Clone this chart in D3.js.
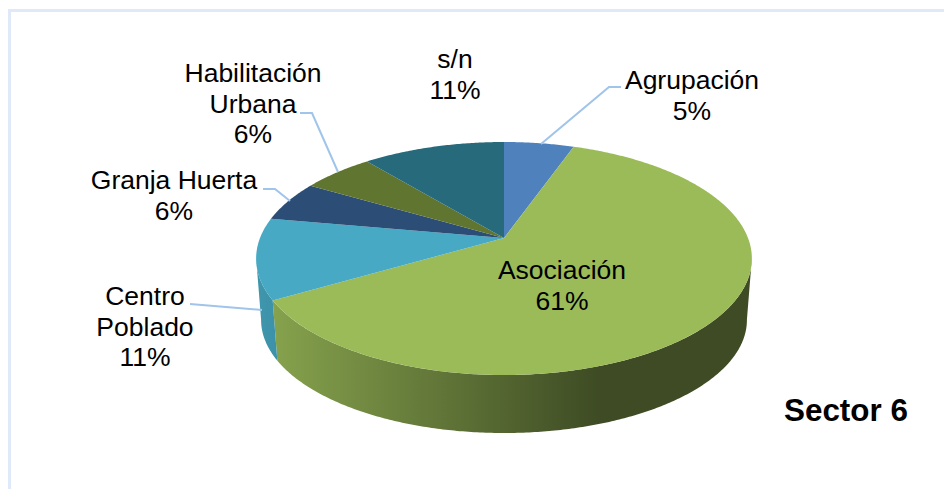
<!DOCTYPE html>
<html>
<head>
<meta charset="utf-8">
<script src="https://cdnjs.cloudflare.com/ajax/libs/d3/7.8.5/d3.min.js"></script>
<style>
  html, body { margin: 0; padding: 0; background: #fff; }
  svg { display: block; }
  text { font-family: "Liberation Sans", Arial, sans-serif; fill: #000; }
</style>
</head>
<body>
<div id="chart"></div>
<script>
const categories = ["Agrupación", "Asociación", "Centro Poblado", "Granja Huerta", "Habilitación Urbana", "s/n"];
const shares = [5.4, 61.2, 11.2, 5.6, 5.6, 11.0];
const chartTitle = "Sector 6";
const sliceColors = ["#4f81bd", "#9bbb59", "#47a9c3", "#2c4d75", "#5f7530", "#276a7c"];

const width = 944, height = 489;

const svg = d3.select("#chart").append("svg")
    .attr("width", width)
    .attr("height", height);

// Frame, open on the right and at the bottom
svg.append("path")
    .attr("d", d3.line()([[9.5, height], [9.5, 10.5], [width, 10.5]]))
    .attr("fill", "none")
    .attr("stroke", "#dfe9f9")
    .attr("stroke-width", 3);

// Tilted pie: the centre of the disc sits above the centre of its outline
const cx = 504, cy = 238;
const radiusX = 244, radiusY = 112.9, tilt = 0.176;
const outlineCy = 258.5, depth = 61.5;

function topPoint(a) {
    const u = Math.sin(a), v = Math.cos(a), w = 1 + tilt * v;
    return [cx + radiusX * u / w, cy - radiusY * v / w];
}

function lowerPoint(a) {
    const p = topPoint(a);
    return [cx + (p[0] - cx) * 0.98, outlineCy + depth + (p[1] - outlineCy) * 0.97];
}

function sampleAngles(a0, a1) {
    const n = Math.max(2, Math.ceil((a1 - a0) / 0.01));
    return d3.range(n + 1).map(i => a0 + (a1 - a0) * i / n);
}

const arcs = d3.pie().sort(null)(shares);
const line = d3.line();

// Side wall shading runs left to right across the whole pie
const defs = svg.append("defs");
sliceColors.forEach((c, i) => {
    const shade = k => {
        const col = d3.rgb(c);
        return d3.rgb(col.r * k, col.g * k, col.b * k).formatHex();
    };
    const grad = defs.append("linearGradient")
        .attr("id", `wall-${i}`)
        .attr("gradientUnits", "userSpaceOnUse")
        .attr("x1", 262).attr("x2", 600)
        .attr("y1", 0).attr("y2", 0);
    grad.append("stop").attr("offset", 0).attr("stop-color", shade(0.88));
    grad.append("stop").attr("offset", 1).attr("stop-color", shade(0.40));
});

// Only the front part of the wall shows
const wallStart = 100 * Math.PI / 180, wallEnd = 260 * Math.PI / 180;

svg.append("g").selectAll("path")
    .data(arcs.filter(d => d.endAngle > wallStart && d.startAngle < wallEnd))
    .enter()
    .append("path")
    .attr("d", d => {
        const angles = sampleAngles(Math.max(d.startAngle, wallStart), Math.min(d.endAngle, wallEnd));
        return line(angles.map(topPoint).concat(angles.reverse().map(lowerPoint))) + "Z";
    })
    .attr("fill", d => `url(#wall-${d.index})`);

// Top of the disc
svg.append("g").selectAll("path")
    .data(arcs)
    .enter()
    .append("path")
    .attr("d", d => line([[cx, cy]].concat(sampleAngles(d.startAngle, d.endAngle).map(topPoint))) + "Z")
    .attr("fill", d => sliceColors[d.index]);

// Leader lines, one per outside label
const leaders = [
    [[541, 144], [609, 87], [621, 87]],
    [[190, 304], [262, 310]],
    [[263, 189], [275, 189], [290, 201]],
    [[300, 113], [312, 113], [338, 172]]
];

svg.append("g").selectAll("path")
    .data(leaders)
    .enter()
    .append("path")
    .attr("d", d => line(d))
    .attr("fill", "none")
    .attr("stroke", "#a0c4ea")
    .attr("stroke-width", 2);

// Labels: name lines then the rounded percentage
const labelLines = [
    ["Agrupación"],
    ["Asociación"],
    ["Centro", "Poblado"],
    ["Granja Huerta"],
    ["Habilitación", "Urbana"],
    ["s/n"]
];
const labelPos = [
    { x: 692, y: 89 },
    { x: 562, y: 279 },
    { x: 145, y: 305 },
    { x: 174, y: 189 },
    { x: 253, y: 82 },
    { x: 455, y: 68 }
];

const labels = svg.append("g").selectAll("text")
    .data(arcs)
    .enter()
    .append("text")
    .attr("text-anchor", "middle")
    .attr("font-size", 26.5);

labels.each(function(d) {
    const lines = labelLines[d.index].concat(d3.format(".0f")(d.value) + "%");
    const pos = labelPos[d.index];
    d3.select(this).selectAll("tspan")
        .data(lines)
        .enter()
        .append("tspan")
        .attr("x", pos.x)
        .attr("y", (l, i) => pos.y + i * 30.5)
        .text(l => l);
});

svg.append("text")
    .attr("x", 784)
    .attr("y", 421)
    .attr("font-size", 31.4)
    .attr("font-weight", "bold")
    .text(chartTitle);
</script>
</body>
</html>
